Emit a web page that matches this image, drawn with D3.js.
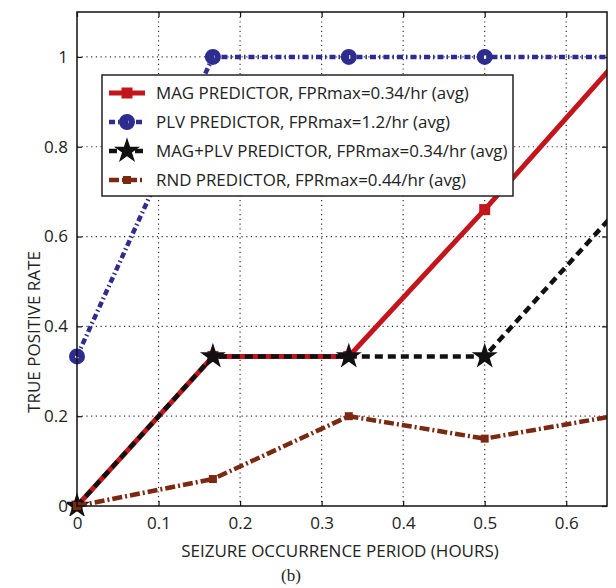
<!DOCTYPE html>
<html>
<head>
<meta charset="utf-8">
<script src="https://cdn.jsdelivr.net/npm/d3@7"></script>
<style>
  body { margin: 0; background: #fff; }
  svg text { font-family: "Open Sans", sans-serif; fill: #222; }
</style>
</head>
<body>
<svg id="chart" width="616" height="588"></svg>
<script>
// seizure occurrence period (hours)
const periods = [0, 1/6, 1/3, 1/2, 2/3];

const magTpr = [0, 0.333, 0.333, 0.66, 1.0];
const plvTpr = [0.333, 1, 1, 1, 1];
const magPlvTpr = [0, 0.333, 0.333, 0.333, 0.667];
const rndTpr = [0, 0.06, 0.2, 0.15, 0.203];

const xTicks = [0, 0.1, 0.2, 0.3, 0.4, 0.5, 0.6];
const yTicks = [0, 0.2, 0.4, 0.6, 0.8, 1];

const seriesNames = [
  "MAG PREDICTOR, FPRmax=0.34/hr (avg)",
  "PLV PREDICTOR, FPRmax=1.2/hr (avg)",
  "MAG+PLV PREDICTOR, FPRmax=0.34/hr (avg)",
  "RND PREDICTOR, FPRmax=0.44/hr (avg)"
];

const margin = { top: 12, right: 9, bottom: 82, left: 77 };
const svg = d3.select("#chart");
const width = 616 - margin.left - margin.right;
const height = 588 - margin.top - margin.bottom;

const chart = svg.append("g")
  .attr("transform", `translate(${margin.left},${margin.top})`);

const xScale = d3.scaleLinear().domain([0, 0.65]).range([0, width]);
const yScale = d3.scaleLinear().domain([0, 1.1]).range([height, 0]);

// dotted grid
chart.append("g").selectAll("line")
  .data(xTicks.slice(1))
  .join("line")
  .attr("x1", d => xScale(d)).attr("x2", d => xScale(d))
  .attr("y1", 0).attr("y2", height)
  .attr("stroke", "#333").attr("stroke-width", 1.2)
  .attr("stroke-dasharray", "1.2,3.5");

chart.append("g").selectAll("line")
  .data(yTicks.slice(1))
  .join("line")
  .attr("y1", d => yScale(d)).attr("y2", d => yScale(d))
  .attr("x1", 0).attr("x2", width)
  .attr("stroke", "#333").attr("stroke-width", 1.2)
  .attr("stroke-dasharray", "1.2,3.5");

// axes, ticks inward like matlab
const xAxis = chart.append("g")
  .attr("transform", `translate(0,${height})`)
  .call(d3.axisBottom(xScale).tickValues(xTicks).tickSize(-5).tickPadding(11)
    .tickFormat(d => d === 0 ? "0" : d3.format(".1f")(d)));
const yAxis = chart.append("g")
  .call(d3.axisLeft(yScale).tickValues(yTicks).tickSize(-5).tickPadding(9)
    .tickFormat(d => (d === 0 || d === 1) ? String(d) : d3.format(".1f")(d)));
chart.append("g")
  .call(d3.axisTop(xScale).tickValues(xTicks).tickSize(-5).tickFormat(""));
chart.append("g")
  .attr("transform", `translate(${width},0)`)
  .call(d3.axisRight(yScale).tickValues(yTicks).tickSize(-5).tickFormat(""));

chart.selectAll(".domain").remove();
chart.selectAll(".tick line").attr("stroke", "#111").attr("stroke-width", 1.2);
xAxis.selectAll("text").style("font-size", "17px");
yAxis.selectAll("text").style("font-size", "17px");

chart.append("defs").append("clipPath").attr("id", "plotClip")
  .append("rect").attr("x", -10).attr("y", -10)
  .attr("width", width + 10).attr("height", height + 20);

const series = [
  { name: seriesNames[0], values: magTpr, color: "#c3161c", dash: null, marker: "square", lw: 5 },
  { name: seriesNames[1], values: plvTpr, color: "#2e2c8f", dash: "6,3,1.5,3", marker: "circle", lw: 4.5 },
  { name: seriesNames[2], values: magPlvTpr, color: "#111", dash: "8,5", marker: "star", lw: 4.5 },
  { name: seriesNames[3], values: rndTpr, color: "#7a2a12", dash: "10,3,2,3", marker: "smallsquare", lw: 4.5 }
];

const line = d3.line()
  .x((d, i) => xScale(periods[i]))
  .y(d => yScale(d));

const plot = chart.append("g").attr("clip-path", "url(#plotClip)");
const starPath = d3.symbol(d3.symbolStar, 210);

function drawMarker(g, kind, color, x, y) {
  if (kind === "square") {
    g.append("rect").attr("x", x - 5.5).attr("y", y - 5.5).attr("width", 11).attr("height", 11)
      .attr("fill", color);
  } else if (kind === "circle") {
    g.append("circle").attr("cx", x).attr("cy", y).attr("r", 5)
      .attr("fill", "none").attr("stroke", color).attr("stroke-width", 6);
  } else if (kind === "star") {
    g.append("path").attr("d", starPath()).attr("transform", `translate(${x},${y})`)
      .attr("fill", color);
  } else {
    g.append("rect").attr("x", x - 4).attr("y", y - 4).attr("width", 8).attr("height", 8)
      .attr("fill", color);
  }
}

series.forEach(s => {
  plot.append("path")
    .datum(s.values)
    .attr("fill", "none")
    .attr("stroke", s.color)
    .attr("stroke-width", s.lw)
    .attr("stroke-dasharray", s.dash)
    .attr("d", line);
  const mg = plot.append("g");
  s.values.forEach((v, i) => drawMarker(mg, s.marker, s.color, xScale(periods[i]), yScale(v)));
});

// box
chart.append("rect")
  .attr("width", width).attr("height", height)
  .attr("fill", "none").attr("stroke", "#111").attr("stroke-width", 1.5);

// legend
const legend = chart.append("g").attr("transform", `translate(${102 - margin.left},${75 - margin.top})`);
legend.append("rect")
  .attr("width", 411).attr("height", 121)
  .attr("fill", "#fff").attr("stroke", "#222").attr("stroke-width", 1.5);

series.forEach((s, i) => {
  const y = 18 + i * 29;
  const row = legend.append("g").attr("transform", `translate(0,${y})`);
  row.append("line")
    .attr("x1", 7).attr("x2", 43).attr("y1", 0).attr("y2", 0)
    .attr("stroke", s.color).attr("stroke-width", s.lw)
    .attr("stroke-dasharray", s.dash);
  drawMarker(row, s.marker, s.color, 25, 0);
  row.append("text")
    .attr("x", 54).attr("y", 0).attr("dy", "0.35em")
    .style("font-size", "16.9px")
    .text(s.name);
});

// axis labels
svg.append("text")
  .attr("x", 340).attr("y", 557)
  .attr("text-anchor", "middle")
  .style("font-size", "17px")
  .text("SEIZURE OCCURRENCE PERIOD (HOURS)");

svg.append("text")
  .attr("transform", `translate(40,332) rotate(-90)`)
  .attr("text-anchor", "middle")
  .style("font-size", "17px")
  .text("TRUE POSITIVE RATE");

svg.append("text")
  .attr("x", 291).attr("y", 581)
  .attr("text-anchor", "middle")
  .style("font-family", "Liberation Serif, serif")
  .style("font-size", "17px")
  .text("(b)");
</script>
</body>
</html>
